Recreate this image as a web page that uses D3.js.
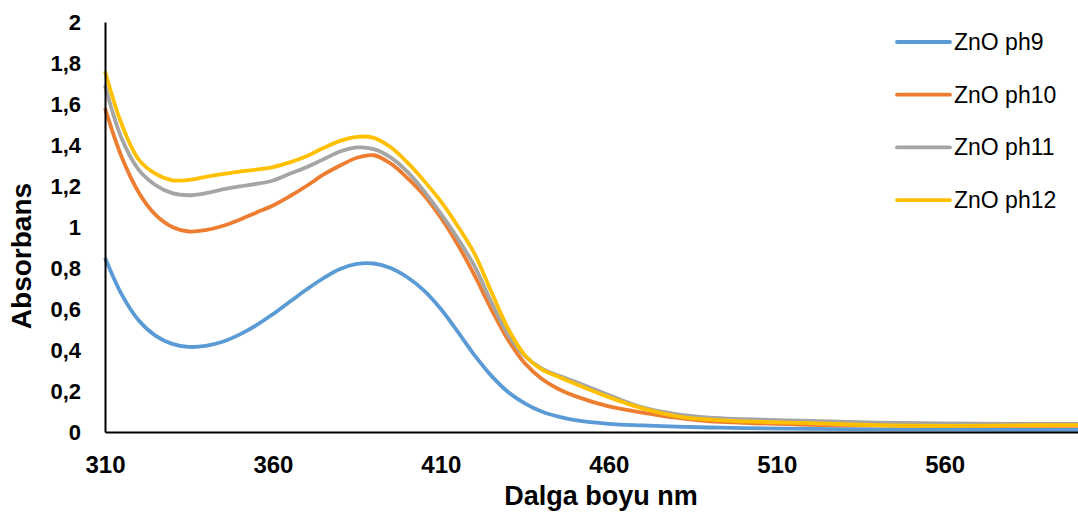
<!DOCTYPE html>
<html>
<head>
<meta charset="utf-8">
<script src="https://cdn.jsdelivr.net/npm/d3@7"></script>
<style>
  html, body { margin: 0; padding: 0; background: #fff; }
  svg { display: block; font-family: "Liberation Sans", Arial, sans-serif; }
</style>
</head>
<body>
<svg id="chart" width="1078" height="516"></svg>
<script>
// Wavelength grid (nm)
const wavelengths = [310, 315, 320, 325, 330, 335, 340, 345, 350, 355, 360, 365, 370, 375, 380, 385, 390, 395, 400, 405,
  410, 415, 420, 425, 430, 435, 440, 445, 450, 460, 470, 480, 490, 500, 520, 540, 560, 580, 600];

// Absorbance for each synthesis pH
const ph9 = [0.85, 0.67, 0.545, 0.47, 0.43, 0.415, 0.42, 0.44, 0.475, 0.52, 0.575, 0.635, 0.695, 0.75, 0.795, 0.82, 0.822, 0.80, 0.755, 0.69,
  0.60, 0.49, 0.375, 0.275, 0.195, 0.14, 0.10, 0.075, 0.058, 0.04, 0.032, 0.026, 0.022, 0.019, 0.015, 0.013, 0.012, 0.011, 0.011];
const ph10 = [1.58, 1.34, 1.17, 1.06, 1.0, 0.978, 0.985, 1.005, 1.035, 1.07, 1.105, 1.15, 1.20, 1.255, 1.30, 1.338, 1.35, 1.31, 1.24, 1.155,
  1.045, 0.915, 0.765, 0.60, 0.45, 0.335, 0.26, 0.21, 0.175, 0.125, 0.095, 0.07, 0.052, 0.045, 0.035, 0.032, 0.03, 0.03, 0.03];
const ph11 = [1.69, 1.43, 1.28, 1.205, 1.165, 1.155, 1.165, 1.183, 1.198, 1.21, 1.227, 1.26, 1.292, 1.33, 1.368, 1.388, 1.38, 1.34, 1.27, 1.175,
  1.065, 0.945, 0.81, 0.635, 0.475, 0.37, 0.31, 0.275, 0.245, 0.18, 0.12, 0.087, 0.07, 0.063, 0.054, 0.046, 0.042, 0.04, 0.04];
const ph12 = [1.76, 1.50, 1.33, 1.26, 1.228, 1.23, 1.245, 1.258, 1.27, 1.28, 1.292, 1.315, 1.345, 1.385, 1.42, 1.44, 1.435, 1.39, 1.315, 1.225,
  1.125, 1.005, 0.87, 0.685, 0.505, 0.375, 0.305, 0.27, 0.235, 0.17, 0.115, 0.078, 0.06, 0.052, 0.043, 0.033, 0.03, 0.032, 0.034];

const seriesNames = ["ZnO ph9", "ZnO ph10", "ZnO ph11", "ZnO ph12"];
const seriesValues = [ph9, ph10, ph11, ph12];
const seriesColors = ["#5B9BD5", "#ED7D31", "#A5A5A5", "#FFC000"];

const xTicks = [310, 360, 410, 460, 510, 560];
const yTicks = [0, 0.2, 0.4, 0.6, 0.8, 1, 1.2, 1.4, 1.6, 1.8, 2];

const svg = d3.select("#chart");

const x = d3.scaleLinear().domain([310, 600]).range([105, 1079]);
const y = d3.scaleLinear().domain([0, 2]).range([432, 22]);

const fmt = v => String(v).replace(".", ",");

// Smoothed spectra
const line = d3.line()
  .x(d => x(d[0]))
  .y(d => y(d[1]))
  .curve(d3.curveCatmullRom.alpha(0.5));

seriesValues.forEach((vals, i) => {
  svg.append("path")
    .datum(wavelengths.map((w, j) => [w, vals[j]]))
    .attr("fill", "none")
    .attr("stroke", seriesColors[i])
    .attr("stroke-width", 3.8)
    .attr("stroke-linejoin", "round")
    .attr("d", line);
});

// Y axis
const yAxis = svg.append("g")
  .attr("transform", `translate(${x(310)},0)`)
  .call(d3.axisLeft(y).tickValues(yTicks).tickFormat(fmt).tickSize(0).tickPadding(24));
yAxis.select(".domain").attr("stroke", "#000").attr("stroke-width", 2);
yAxis.selectAll("text")
  .attr("font-size", 22).attr("font-weight", "bold").attr("fill", "#000")
  .attr("font-family", "Liberation Sans, Arial, sans-serif");

// X axis
const xAxis = svg.append("g")
  .attr("transform", `translate(0,${y(0)})`)
  .call(d3.axisBottom(x).tickValues(xTicks).tickFormat(d3.format("d")).tickSize(0).tickPadding(24));
xAxis.select(".domain").attr("stroke", "#000").attr("stroke-width", 2);
xAxis.selectAll("text")
  .attr("font-size", 24).attr("font-weight", "bold").attr("fill", "#000")
  .attr("font-family", "Liberation Sans, Arial, sans-serif");

// Axis titles
svg.append("text")
  .attr("x", 601).attr("y", 505)
  .attr("text-anchor", "middle")
  .attr("font-size", 27).attr("font-weight", "bold")
  .text("Dalga boyu nm");

svg.append("text")
  .attr("transform", "translate(31,256) rotate(-90)")
  .attr("text-anchor", "middle")
  .attr("font-size", 28).attr("font-weight", "bold")
  .text("Absorbans");

// Legend
const legend = svg.append("g").attr("transform", "translate(897,42)");
seriesNames.forEach((name, i) => {
  const g = legend.append("g").attr("transform", `translate(0,${i * 52.7})`);
  g.append("line")
    .attr("x1", 0).attr("x2", 53).attr("y1", 0).attr("y2", 0)
    .attr("stroke", seriesColors[i]).attr("stroke-width", 3.8).attr("stroke-linecap", "round");
  g.append("text")
    .attr("x", 57).attr("y", 8)
    .attr("font-size", 23)
    .attr("fill", "#000")
    .text(name);
});
</script>
</body>
</html>
